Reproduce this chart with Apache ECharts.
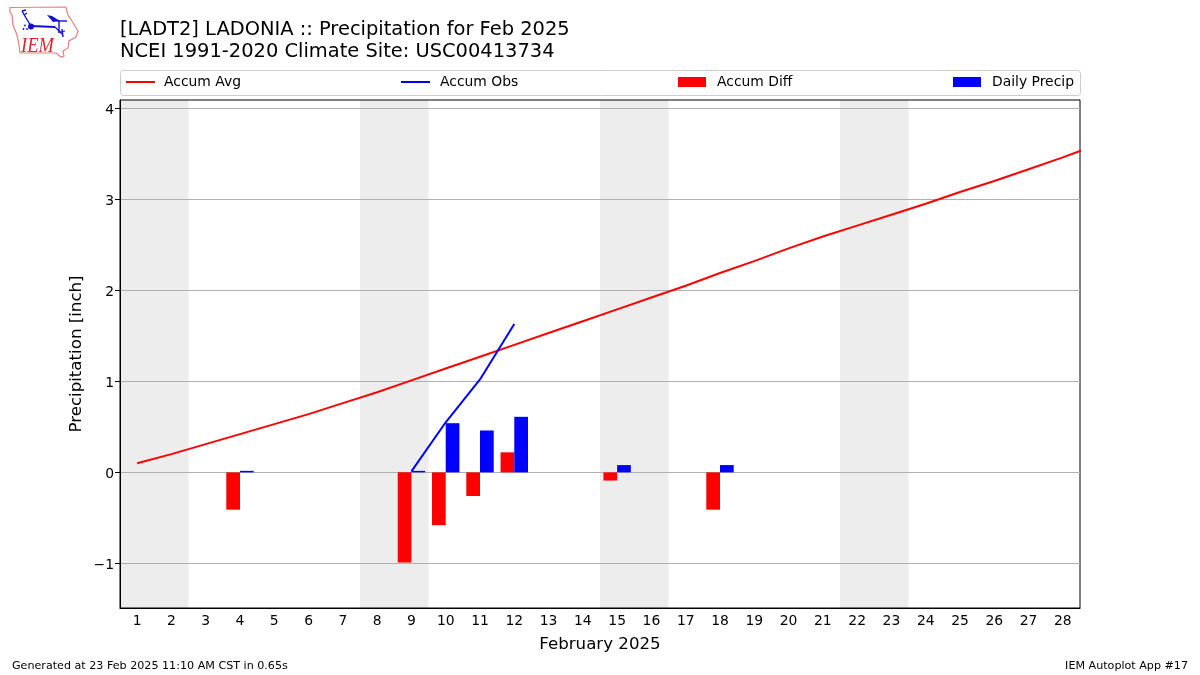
<!DOCTYPE html>
<html><head><meta charset="utf-8">
<script src="https://cdn.jsdelivr.net/npm/echarts@6/dist/echarts.min.js"></script>
<style>html,body{margin:0;padding:0;background:#fff}#c{width:1200px;height:675px}</style>
</head><body><div id="c"></div>
<script>
const days = [1,2,3,4,5,6,7,8,9,10,11,12,13,14,15,16,17,18,19,20,21,22,23,24,25,26,27,28];
const accumAvgDays = [1,2,3,4,5,6,7,8,9,10,11,12,13,14,15,16,17,18,19,20,21,22,23,24,25,26,27,28,29];
const accumAvg = [0.10,0.20,0.31,0.42,0.53,0.64,0.76,0.88,1.01,1.14,1.27,1.40,1.53,1.66,1.79,1.92,2.05,2.19,2.32,2.46,2.59,2.71,2.83,2.95,3.08,3.20,3.33,3.46,3.60];
const accumObsDays = [9,10,11,12];
const accumObs = [0.01,0.55,1.02,1.63];
const accumDiff = [null,null,null,-0.41,null,null,null,null,-0.99,-0.58,-0.26,0.22,null,null,-0.09,null,null,-0.41,null,null,null,null,null,null,null,null,null,null];
const dailyPrecip = [null,null,null,0.01,null,null,null,null,0.01,0.54,0.46,0.61,null,null,0.08,null,null,0.08,null,null,null,null,null,null,null,null,null,null];
const weekendBands = [[0.5,2.5],[7.5,9.5],[14.5,16.5],[21.5,23.5]];
const yTicks = [-1,0,1,2,3,4];
const FONT = '"DejaVu Sans", sans-serif';

const pair = (xs, ys) => xs.map((x,i)=>[x,ys[i]]);
const chart = echarts.init(document.getElementById('c'), null, {renderer:'canvas'});
const legendCommon = {top:75, orient:'horizontal', padding:0, selectedMode:false};
const legendText = pad => ({fontFamily:FONT,fontSize:13.9,color:'#000',padding:[0,0,0,pad]});
const logoLine = (pts,color,w)=>({type:'polyline',silent:true,shape:{points:pts},style:{stroke:color,lineWidth:w,fill:null}});
const BLUE = '#1010d0';
chart.setOption({
  animation:false,
  backgroundColor:'#fff',
  title:[
    {text:'[LADT2] LADONIA :: Precipitation for Feb 2025\nNCEI 1991-2020 Climate Site: USC00413734',left:120,top:19,padding:0,
     textStyle:{fontFamily:FONT,fontSize:19.45,fontWeight:'normal',color:'#000',lineHeight:22}},
    {text:'Generated at 23 Feb 2025 11:10 AM CST in 0.65s',left:12,top:661,padding:0,textStyle:{fontFamily:FONT,fontSize:11.13,fontWeight:'normal',color:'#000'}},
    {text:'IEM Autoplot App #17',right:12,top:661,padding:0,textStyle:{fontFamily:FONT,fontSize:11.13,fontWeight:'normal',color:'#000'}}
  ],
  legend:[
    {...legendCommon,left:126,data:[{name:'Accum Avg',icon:'rect'}],itemWidth:29,itemHeight:2,textStyle:legendText(4)},
    {...legendCommon,left:401,data:[{name:'Accum Obs',icon:'rect'}],itemWidth:29,itemHeight:2,textStyle:legendText(5)},
    {...legendCommon,left:678,data:[{name:'Accum Diff',icon:'rect'}],itemWidth:28,itemHeight:10,textStyle:legendText(6)},
    {...legendCommon,left:953,data:[{name:'Daily Precip',icon:'rect'}],itemWidth:28,itemHeight:10,textStyle:legendText(6)}
  ],
  grid:{left:120,top:100,width:960,height:508,show:true,borderColor:'#000',borderWidth:1,backgroundColor:'transparent',containLabel:false},
  xAxis:[
    {type:'category',data:days,boundaryGap:true,position:'bottom',
     name:'February 2025',nameLocation:'middle',nameGap:28,nameTextStyle:{fontFamily:FONT,fontSize:16.65,color:'#000'},
     axisLine:{onZero:false,lineStyle:{color:'#000',width:1}},
     axisTick:{alignWithLabel:true,length:5,lineStyle:{color:'#000'}},
     axisLabel:{interval:0,fontFamily:FONT,fontSize:13.9,color:'#000',margin:6},
     splitLine:{show:false}},
    {type:'value',min:0.5,max:28.5,show:false,splitLine:{show:false}}
  ],
  yAxis:{type:'value',min:-1.49,max:4.09,interval:1,
    name:'Precipitation [inch]',nameLocation:'middle',nameGap:35,nameMoveOverlap:false,nameTextStyle:{fontFamily:FONT,fontSize:16.65,color:'#000'},
    axisLine:{show:true,onZero:false,lineStyle:{color:'#000'}},
    axisTick:{show:true,length:5,lineStyle:{color:'#000'},customValues:yTicks},
    axisLabel:{fontFamily:FONT,fontSize:13.9,color:'#000',margin:6,verticalAlign:'top',lineHeight:4,customValues:yTicks,formatter:v=>String(v).replace('-','\u2212')},
    splitLine:{show:true,lineStyle:{color:'#b0b0b0',width:1}}},
  series:[
    {name:'Weekend',type:'line',xAxisIndex:1,yAxisIndex:0,data:[],z:-1,silent:true,
     markArea:{silent:true,z:-1,itemStyle:{color:'#ededed'},label:{show:false},
       data:weekendBands.map(b=>[{xAxis:b[0]},{xAxis:b[1]}])}},
    {name:'Accum Diff',type:'bar',xAxisIndex:0,data:accumDiff,barWidth:'40%',barGap:0,itemStyle:{color:'#ff0000'},z:3},
    {name:'Daily Precip',type:'bar',xAxisIndex:0,data:dailyPrecip,barWidth:'40%',barGap:0,barMinHeight:1.5,itemStyle:{color:'#0000ff'},z:3},
    {name:'Accum Avg',type:'line',xAxisIndex:1,data:pair(accumAvgDays,accumAvg),showSymbol:false,symbol:'none',clip:true,lineStyle:{color:'#ff0000',width:2},itemStyle:{color:'#ff0000'},z:5},
    {name:'Accum Obs',type:'line',xAxisIndex:1,data:pair(accumObsDays,accumObs),showSymbol:false,symbol:'none',clip:true,lineStyle:{color:'#0000ff',width:2},itemStyle:{color:'#0000ff'},z:5}
  ],
  graphic:[
    {type:'rect',silent:true,z:-5,shape:{x:120.5,y:70.5,width:960,height:25,r:3},style:{fill:'#fff',stroke:'#cccccc',lineWidth:1}},
    {type:'polygon',silent:true,shape:{points:[[10,7.5],[66,7],[68,15],[72,21],[78,31],[76,37],[69,41],[68,48],[63,51],[64,56],[61,57],[56,53],[20,53],[19,45],[17,35],[13,25],[12,15],[10,12]]},style:{fill:null,stroke:'#e58080',lineWidth:1.2}},
    logoLine([[22,11],[26,18],[31,26]],BLUE,1.4),
    logoLine([[22,11],[26,10]],BLUE,1.4),
    logoLine([[24,15],[27,13]],BLUE,1.4),
    logoLine([[31,26],[55,27]],BLUE,2),
    logoLine([[55,27],[62,34]],BLUE,1.3),
    logoLine([[57,21],[67,21]],BLUE,1.4),
    logoLine([[59,21],[59,33]],BLUE,1.4),
    logoLine([[62,29],[63,37]],BLUE,1.4),
    logoLine([[60,32],[65,31]],BLUE,1.2),
    {type:'circle',silent:true,shape:{cx:31,cy:26.5,r:3},style:{fill:BLUE}},
    {type:'polygon',silent:true,shape:{points:[[47,15],[52,16],[60,21],[53,22]]},style:{fill:BLUE}},
    {type:'circle',silent:true,shape:{cx:25,cy:25.5,r:0.9},style:{fill:BLUE}},
    {type:'circle',silent:true,shape:{cx:23.5,cy:29,r:0.9},style:{fill:BLUE}},
    {type:'circle',silent:true,shape:{cx:27,cy:29,r:0.9},style:{fill:BLUE}},
    {type:'text',silent:true,x:21,y:35,scaleX:0.84,style:{x:0,y:0,text:'IEM',fontFamily:'"Liberation Serif",serif',fontStyle:'italic',fontSize:22,fill:'#d8282f'}}
  ]
});
</script></body></html>
